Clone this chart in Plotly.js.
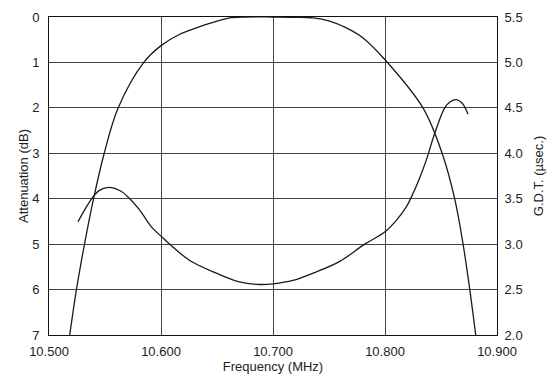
<!DOCTYPE html>
<html>
<head>
<meta charset="utf-8">
<script src="https://cdn.plot.ly/plotly-3.0.1.min.js"></script>
<style>html,body{margin:0;padding:0;background:#fff;}#chart{width:554px;height:378px;}</style>
</head>
<body>
<div id="chart"></div>
<script>
// Attenuation (dB) vs frequency (MHz)
const attFreq = [10.5185, 10.5245, 10.5317, 10.5398, 10.5493, 10.5618, 10.5846, 10.6000, 10.6167, 10.6347, 10.6524, 10.6610, 10.6750, 10.7000, 10.7200, 10.7358, 10.7506, 10.7655, 10.7804, 10.8000, 10.8339, 10.8510, 10.8622, 10.8697, 10.8757, 10.8810];
const attVals = [7.0, 6.0, 5.0, 4.0, 3.0, 2.0, 1.0, 0.63, 0.38, 0.21, 0.075, 0.02, 0.0, 0.0, 0.005, 0.02, 0.09, 0.24, 0.46, 0.94, 2.0, 3.0, 4.0, 5.0, 6.0, 7.0];
// Group delay time (usec) vs frequency (MHz)
const gdtFreq = [10.5259, 10.5334, 10.5393, 10.5453, 10.5536, 10.5631, 10.5705, 10.5810, 10.5914, 10.6000, 10.6078, 10.6257, 10.6495, 10.6700, 10.6881, 10.7000, 10.7179, 10.7388, 10.7596, 10.7819, 10.8000, 10.8103, 10.8190, 10.8236, 10.8313, 10.8370, 10.8444, 10.8533, 10.8580, 10.8638, 10.8690, 10.8741];
const gdtVals = [3.246, 3.41, 3.52, 3.595, 3.625, 3.59, 3.52, 3.375, 3.19, 3.088, 3.0, 2.82, 2.68, 2.585, 2.556, 2.563, 2.60, 2.695, 2.81, 3.0, 3.136, 3.265, 3.41, 3.52, 3.74, 3.93, 4.22, 4.5, 4.565, 4.59, 4.55, 4.43];

const xTicks = [10.5, 10.6, 10.7, 10.8, 10.9];
const attTicks = [0, 1, 2, 3, 4, 5, 6, 7];
const gdtTicks = [2.0, 2.5, 3.0, 3.5, 4.0, 4.5, 5.0, 5.5];

const lineStyle = {color: '#1a1a1a', width: 1.3, shape: 'spline', smoothing: 1};
const traces = [
  {x: attFreq, y: attVals, type: 'scatter', mode: 'lines', line: lineStyle, yaxis: 'y', hoverinfo: 'skip'},
  {x: gdtFreq, y: gdtVals, type: 'scatter', mode: 'lines', line: lineStyle, yaxis: 'y2', hoverinfo: 'skip'}
];
const fnt = {family: 'Liberation Sans, Arial, sans-serif', size: 13, color: '#222'};
const layout = {
  width: 554, height: 378,
  margin: {l: 49, r: 57, t: 17, b: 43, pad: 0},
  paper_bgcolor: '#fff', plot_bgcolor: '#fff',
  showlegend: false,
  font: fnt,
  xaxis: {
    range: [10.5, 10.9], tickvals: xTicks, tickformat: '.3f',
    showgrid: true, gridcolor: '#444', gridwidth: 1,
    showline: true, linecolor: '#111', linewidth: 1, mirror: true,
    ticks: '', zeroline: false, ticklabelstandoff: 4,
    title: {text: 'Frequency (MHz)', font: fnt, standoff: 1}
  },
  yaxis: {
    range: [7, 0], tickvals: attTicks,
    showgrid: true, gridcolor: '#444', gridwidth: 1,
    showline: true, linecolor: '#111', linewidth: 1,
    ticks: '', zeroline: false, ticklabelstandoff: 6,
    title: {text: 'Attenuation (dB)', font: fnt, standoff: 0}
  },
  yaxis2: {
    range: [2.0, 5.5], tickvals: gdtTicks, tickformat: '.1f',
    overlaying: 'y', side: 'right',
    showgrid: false, showline: true, linecolor: '#111', linewidth: 1,
    ticks: '', zeroline: false, ticklabelstandoff: 4,
    title: {text: 'G.D.T. (µsec.)', font: fnt, standoff: 12}
  }
};
Plotly.newPlot('chart', traces, layout, {staticPlot: true, displayModeBar: false});
</script>
</body>
</html>
